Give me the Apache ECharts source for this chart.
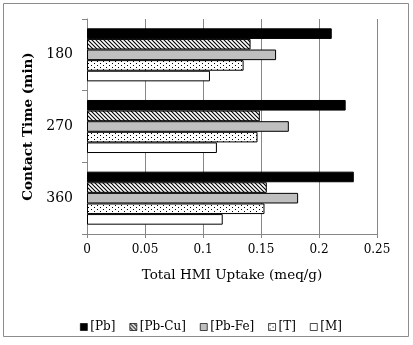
<!DOCTYPE html>
<html>
<head>
<meta charset="utf-8">
<script src="https://cdn.jsdelivr.net/npm/echarts@6/dist/echarts.min.js"></script>
<style>
  html, body { margin: 0; padding: 0; background: #fff; }
  #chart { width: 413px; height: 345px; }
</style>
</head>
<body>
<div id="chart"></div>
<script>
// Contact time groups and HMI uptake per sorbent system (meq/g)
const contactTimes = ['180', '270', '360'];
const seriesNames = ['[Pb]', '[Pb-Cu]', '[Pb-Fe]', '[T]', '[M]'];
const pb   = [0.211, 0.223, 0.230];
const pbCu = [0.141, 0.149, 0.155];
const pbFe = [0.163, 0.174, 0.182];
const t    = [0.135, 0.147, 0.153];
const m    = [0.106, 0.112, 0.117];
const xTicks = [0, 0.05, 0.1, 0.15, 0.2, 0.25];

const FONT = 'DejaVu Serif';

// Fill tiles for the patterned bars
function hatchTile() {
  const c = document.createElement('canvas');
  c.width = 4; c.height = 4;
  const g = c.getContext('2d');
  g.fillStyle = '#fff'; g.fillRect(0, 0, 4, 4);
  g.strokeStyle = '#000'; g.lineWidth = 1.1;
  g.beginPath();
  g.moveTo(-1, -1); g.lineTo(5, 5);
  g.moveTo(-1, 3); g.lineTo(1, 5);
  g.moveTo(3, -1); g.lineTo(5, 1);
  g.stroke();
  return c;
}
function dotTile() {
  const c = document.createElement('canvas');
  c.width = 6; c.height = 4;
  const g = c.getContext('2d');
  g.fillStyle = '#fff'; g.fillRect(0, 0, 6, 4);
  g.fillStyle = '#000';
  g.fillRect(1, 1, 1, 1);
  g.fillRect(4, 3, 1, 1);
  return c;
}

const fills = [
  '#000000',
  { image: hatchTile(), repeat: 'repeat' },
  '#bfbfbf',
  { image: dotTile(), repeat: 'repeat' },
  '#ffffff'
];
const values = [pb, pbCu, pbFe, t, m];

const chart = echarts.init(document.getElementById('chart'), null, { renderer: 'canvas' });
chart.setOption({
  animation: false,
  backgroundColor: '#fff',
  textStyle: { fontFamily: FONT },
  graphic: [{
    type: 'rect',
    shape: { x: 3.5, y: 3.5, width: 405, height: 333 },
    style: { fill: 'none', stroke: '#8c8c8c', lineWidth: 1 },
    silent: true, z: -10
  }],
  grid: { left: 87, right: 36, top: 19, bottom: 111, containLabel: false },
  legend: {
    top: 316,
    left: 75,
    itemWidth: 7,
    itemHeight: 7,
    itemGap: 14,
    icon: 'rect',
    itemStyle: { borderWidth: 0.7, borderColor: '#000' },
    textStyle: { fontFamily: FONT, fontSize: 12, color: '#000', padding: [0, 0, 0, -2] },
    data: seriesNames
  },
  xAxis: {
    type: 'value',
    min: 0, max: 0.25, interval: 0.05,
    name: 'Total HMI Uptake (meq/g)',
    nameLocation: 'middle',
    nameGap: 34,
    nameTextStyle: { fontFamily: FONT, fontSize: 13.5, color: '#000' },
    axisLine: { show: true, lineStyle: { color: '#868686' } },
    axisTick: { show: true, length: 4, lineStyle: { color: '#868686' } },
    axisLabel: {
      fontFamily: FONT, fontSize: 12, color: '#000', margin: 10,
      formatter: v => String(xTicks.find(x => Math.abs(x - v) < 1e-9) ?? v)
    },
    splitLine: { show: true, lineStyle: { color: '#868686', width: 1 } }
  },
  yAxis: {
    type: 'category',
    inverse: true,
    data: contactTimes,
    name: 'Contact Time (min)',
    nameLocation: 'middle',
    nameGap: 42,
    nameTextStyle: { fontFamily: FONT, fontSize: 13.5, fontWeight: 'bold', color: '#000' },
    axisLine: { show: true, lineStyle: { color: '#868686' } },
    axisTick: { show: true, length: 5, lineStyle: { color: '#868686' } },
    axisLabel: { fontFamily: FONT, fontSize: 14, color: '#000', margin: 14 }
  },
  series: seriesNames.map((name, i) => ({
    name,
    type: 'bar',
    data: values[i],
    barGap: '0%',
    barCategoryGap: '26%',
    itemStyle: { color: fills[i], borderColor: '#000', borderWidth: 1 }
  }))
});
</script>
</body>
</html>
